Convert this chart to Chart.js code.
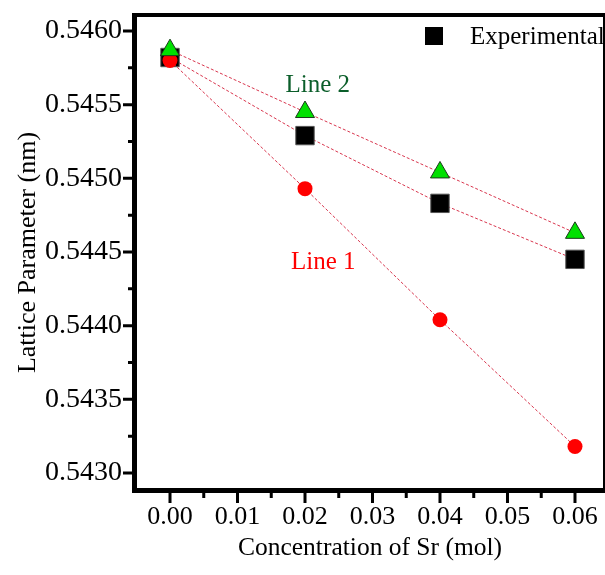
<!DOCTYPE html>
<html>
<head>
<meta charset="utf-8">
<script src="https://cdn.jsdelivr.net/npm/chart.js@4.4.0/dist/chart.umd.min.js"></script>
<style>
  html, body { margin: 0; padding: 0; background: #fff; overflow: hidden; }
  canvas { display: block; }
</style>
</head>
<body>
<canvas id="chart" width="605" height="575"></canvas>
<script>
// Sr concentration (mol) and lattice parameter (nm)
const conc = [0.00, 0.02, 0.04, 0.06]
const experimental = [0.54582, 0.54529, 0.54483, 0.54445]
const line1 = [0.54580, 0.54493, 0.54404, 0.54318]
const line2 = [0.54587, 0.54545, 0.54504, 0.54463]

const xTicks = [0.00, 0.01, 0.02, 0.03, 0.04, 0.05, 0.06]
const yTicks = [0.5430, 0.5435, 0.5440, 0.5445, 0.5450, 0.5455, 0.5460]

const serif = "'Liberation Serif', 'Times New Roman', serif"

const toPoints = (ys) => conc.map((x, i) => ({ x: x, y: ys[i] }))

// keep the plot box fixed: no extra room reserved for edge labels
const fixBox = (size) => (s) => {
  if (s.isHorizontal()) s.height = size
  else s.width = size
  s.paddingTop = 0
  s.paddingBottom = 0
  s.paddingLeft = 0
  s.paddingRight = 0
}

// frame, major/minor tick marks, legend entry and the two line labels
const framePlugin = {
  id: 'frame',
  afterDraw(chart) {
    const { ctx, chartArea: a, scales } = chart
    const xs = scales.x, ys = scales.y
    ctx.save()
    ctx.strokeStyle = '#000'
    ctx.lineCap = 'butt'

    // axes box
    ctx.lineWidth = 5
    ctx.beginPath()
    ctx.moveTo(a.left - 2.5, a.top - 4)
    ctx.lineTo(a.left - 2.5, a.bottom + 5)
    ctx.moveTo(a.left - 5, a.bottom + 2.5)
    ctx.lineTo(a.right + 2, a.bottom + 2.5)
    ctx.stroke()
    ctx.lineWidth = 4
    ctx.beginPath()
    ctx.moveTo(a.left - 5, a.top - 2)
    ctx.lineTo(a.right + 2, a.top - 2)
    ctx.stroke()
    ctx.lineWidth = 2
    ctx.beginPath()
    ctx.moveTo(a.right + 1, a.top - 4)
    ctx.lineTo(a.right + 1, a.bottom)
    ctx.stroke()

    // tick marks
    ctx.lineWidth = 3
    ctx.beginPath()
    yTicks.forEach((v, i) => {
      const py = ys.getPixelForValue(v)
      ctx.moveTo(a.left - 5, py)
      ctx.lineTo(a.left - 14, py)
      if (i < yTicks.length - 1) {
        const pm = ys.getPixelForValue((v + yTicks[i + 1]) / 2)
        ctx.moveTo(a.left - 5, pm)
        ctx.lineTo(a.left - 9, pm)
      }
    })
    xTicks.forEach((v, i) => {
      const px = xs.getPixelForValue(v)
      ctx.moveTo(px, a.bottom + 5)
      ctx.lineTo(px, a.bottom + 15)
      if (i < xTicks.length - 1) {
        const pm = xs.getPixelForValue((v + xTicks[i + 1]) / 2)
        ctx.moveTo(pm, a.bottom + 5)
        ctx.lineTo(pm, a.bottom + 10)
      }
    })
    ctx.stroke()

    // legend
    ctx.fillStyle = '#000'
    ctx.fillRect(a.right - 178, a.top + 10, 18, 18)
    ctx.font = '25px ' + serif
    ctx.textBaseline = 'middle'
    ctx.textAlign = 'left'
    ctx.fillText('Experimental', a.right - 133, a.top + 20)

    // line labels
    ctx.textAlign = 'center'
    ctx.fillStyle = '#0b5e2a'
    ctx.fillText('Line 2', xs.getPixelForValue(0.0219), ys.getPixelForValue(0.54563))
    ctx.fillStyle = '#ff0000'
    ctx.fillText('Line 1', xs.getPixelForValue(0.0227), ys.getPixelForValue(0.54443))
    ctx.restore()
  }
}

const lineStyle = {
  showLine: true,
  borderColor: '#d8364e',
  borderWidth: 1,
  borderDash: [3, 2],
  tension: 0
}

new Chart(document.getElementById('chart'), {
  type: 'scatter',
  data: {
    datasets: [
      {
        label: 'Line 2',
        data: toPoints(line2),
        ...lineStyle,
        pointStyle: 'triangle',
        pointRadius: 11,
        pointHoverRadius: 11,
        backgroundColor: '#00e000',
        pointBorderColor: '#1a3a1a',
        pointBorderWidth: 1,
        order: 0
      },
      {
        label: 'Line 1',
        data: toPoints(line1),
        ...lineStyle,
        pointStyle: 'circle',
        pointRadius: 7.5,
        pointHoverRadius: 7.5,
        backgroundColor: '#ff0000',
        pointBorderColor: '#ff0000',
        pointBorderWidth: 0,
        order: 1
      },
      {
        label: 'Experimental',
        data: toPoints(experimental),
        ...lineStyle,
        pointStyle: 'rect',
        pointRadius: 13,
        pointHoverRadius: 13,
        backgroundColor: '#000',
        pointBorderColor: '#555',
        pointBorderWidth: 1,
        order: 2
      }
    ]
  },
  options: {
    responsive: false,
    animation: false,
    layout: {
      autoPadding: false,
      padding: { top: 17, right: 2, left: 0, bottom: 0 }
    },
    plugins: {
      legend: { display: false },
      tooltip: { enabled: false }
    },
    scales: {
      x: {
        type: 'linear',
        min: -0.00489,
        max: 0.06415,
        afterBuildTicks: (s) => { s.ticks = xTicks.map(v => ({ value: v })) },
        afterFit: fixBox(87),
        grid: { display: true, drawOnChartArea: false, drawTicks: false },
        border: { display: false },
        ticks: {
          padding: 14,
          color: '#000',
          font: { family: serif, size: 26 },
          callback: (v) => Number(v).toFixed(2)
        },
        title: {
          display: true,
          text: 'Concentration of Sr (mol)',
          color: '#000',
          font: { family: serif, size: 25.5 },
          padding: { top: 0, bottom: 11 }
        }
      },
      y: {
        type: 'linear',
        min: 0.542898,
        max: 0.546095,
        afterBuildTicks: (s) => { s.ticks = yTicks.map(v => ({ value: v })) },
        afterFit: fixBox(137),
        grid: { display: true, drawOnChartArea: false, drawTicks: false },
        border: { display: false },
        ticks: {
          padding: 15,
          color: '#000',
          font: { family: serif, size: 28 },
          callback: (v) => Number(v).toFixed(4)
        },
        title: {
          display: true,
          text: 'Lattice Parameter (nm)',
          color: '#000',
          font: { family: serif, size: 26 },
          padding: { top: 13, bottom: 0 }
        }
      }
    }
  },
  plugins: [framePlugin]
})
</script>
</body>
</html>
